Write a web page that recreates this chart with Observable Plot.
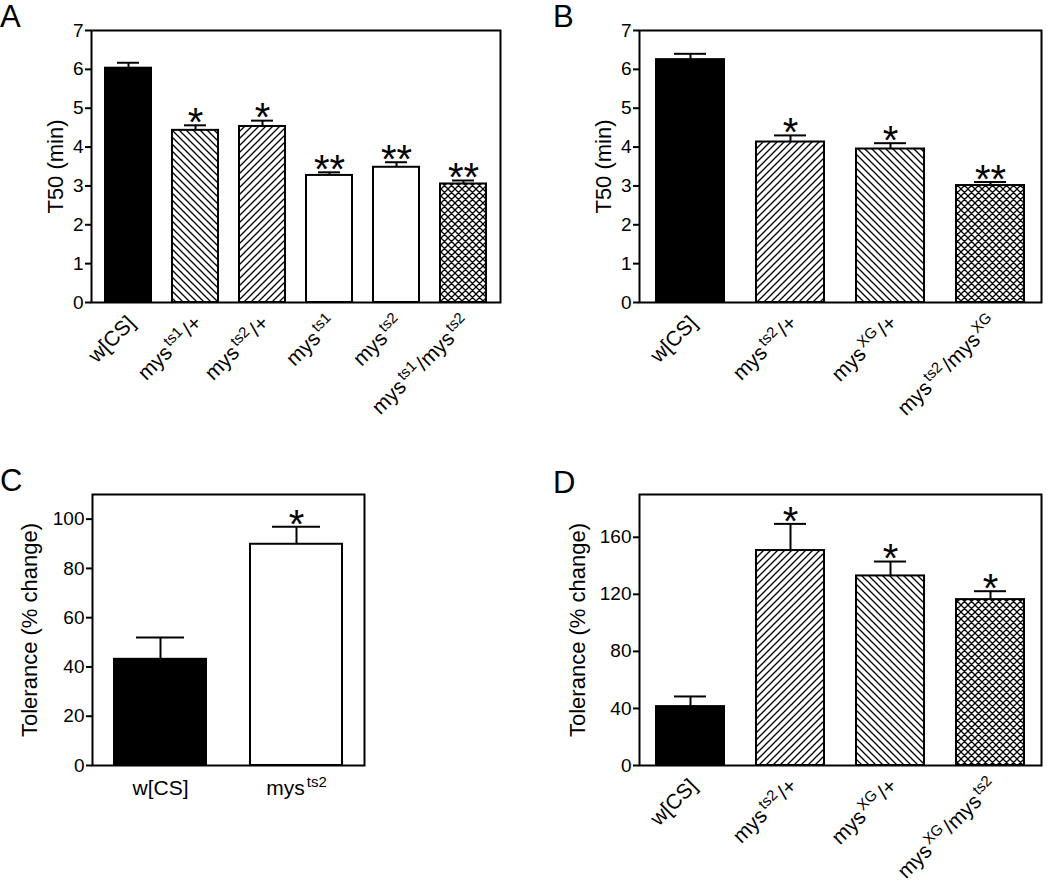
<!DOCTYPE html>
<html><head><meta charset="utf-8">
<script src="https://cdn.jsdelivr.net/npm/d3@7"></script>
<script src="https://cdn.jsdelivr.net/npm/@observablehq/plot@0.6"></script>
<style>
body{margin:0;background:#fff;}
#root{position:relative;width:1050px;height:885px;font-family:"Liberation Sans",Arial,sans-serif;color:#000;background:#fff;overflow:hidden;}
.panel{position:absolute;}
.panel svg{overflow:visible;max-width:none;}
.letter{position:absolute;font-size:31px;line-height:1;}
</style></head><body>
<svg width="0" height="0" style="position:absolute">
<defs>
<pattern id="hf" patternUnits="userSpaceOnUse" width="7" height="7">
<rect width="7" height="7" fill="white"/>
<path d="M-1,1 L1,-1 M0,7 L7,0 M6,8 L8,6" stroke="black" stroke-width="1.3"/>
</pattern>
<pattern id="hb" patternUnits="userSpaceOnUse" width="7" height="7">
<rect width="7" height="7" fill="white"/>
<path d="M-1,6 L1,8 M0,0 L7,7 M6,-1 L8,1" stroke="black" stroke-width="1.3"/>
</pattern>
<pattern id="hx" patternUnits="userSpaceOnUse" width="7" height="7">
<rect width="7" height="7" fill="white"/>
<path d="M-1,1 L1,-1 M0,7 L7,0 M6,8 L8,6 M-1,6 L1,8 M0,0 L7,7 M6,-1 L8,1" stroke="black" stroke-width="1.3"/>
</pattern>
</defs>
</svg>
<div id="root"></div>
<script>
// ---------- Data ----------
// Panel A: T50 (min)
const catsA = ["w[CS]", "mys^{ts1}/+", "mys^{ts2}/+", "mys^{ts1}", "mys^{ts2}", "mys^{ts1}/mys^{ts2}"];
const meanA = [6.03, 4.43, 4.53, 3.27, 3.48, 3.05];
const semA  = [0.14, 0.13, 0.15, 0.08, 0.13, 0.09];
const sigA  = ["", "*", "*", "**", "**", "**"];
const ticksA = [0, 1, 2, 3, 4, 5, 6, 7];

// Panel B: T50 (min)
const catsB = ["w[CS]", "mys^{ts2}/+", "mys^{XG}/+", "mys^{ts2}/mys^{XG}"];
const meanB = [6.25, 4.13, 3.95, 3.01];
const semB  = [0.15, 0.17, 0.15, 0.09];
const sigB  = ["", "*", "*", "**"];
const ticksB = [0, 1, 2, 3, 4, 5, 6, 7];

// Panel C: Tolerance (% change)
const catsC = ["w[CS]", "mys^{ts2}"];
const meanC = [43.1, 89.8];
const semC  = [8.9, 7.1];
const sigC  = ["", "*"];
const ticksC = [0, 20, 40, 60, 80, 100];

// Panel D: Tolerance (% change)
const catsD = ["w[CS]", "mys^{ts2}/+", "mys^{XG}/+", "mys^{XG}/mys^{ts2}"];
const meanD = [41.3, 150.7, 132.9, 116.3];
const semD  = [7.1, 18.7, 10.1, 5.9];
const sigD  = ["", "*", "*", "*"];
const ticksD = [0, 40, 80, 120, 160];

// ---------- Styles ----------
const fillsA = ["black", "url(#hb)", "url(#hf)", "white", "white", "url(#hx)"];
const fillsB = ["black", "url(#hf)", "url(#hb)", "url(#hx)"];
const fillsC = ["black", "white"];
const fillsD = ["black", "url(#hf)", "url(#hb)", "url(#hx)"];

const FONT = "Liberation Sans, Arial, Helvetica, sans-serif";

function richify(svg) {
  d3.select(svg).selectAll("text").each(function () {
    const t = this.textContent;
    if (!t.includes("^{")) return;
    const parts = t.split(/(\^\{[^}]*\})/).filter(s => s);
    while (this.firstChild) this.removeChild(this.firstChild);
    let raised = false;
    for (const p of parts) {
      const ts = document.createElementNS("http://www.w3.org/2000/svg", "tspan");
      if (p.startsWith("^{")) {
        ts.textContent = p.slice(2, -1);
        ts.setAttribute("font-size", "15");
        ts.setAttribute("dy", "-8");
        ts.setAttribute("dx", "2");
        raised = true;
      } else {
        ts.textContent = p;
        if (raised) { ts.setAttribute("dy", "8"); ts.setAttribute("dx", "2"); raised = false; }
      }
      this.appendChild(ts);
    }
  });
}

function panel(cfg) {
  const {cats, mean, sem, sig, fills, domain, ticks, ylabel, width, height,
         ml, mr, mt, mb, labelOffset, rotate, capInset, padOuter} = cfg;
  const data = cats.map((c, i) => ({c, m: mean[i], e: mean[i] + sem[i], s: sig[i], f: fills[i]}));
  const labelMark = rotate
    ? Plot.text(cats, {x: d => d, text: d => d, frameAnchor: "bottom", rotate: -45,
        textAnchor: "end", lineAnchor: "middle", dx: 3, dy: 17, fontSize: 21})
    : Plot.text(cats, {x: d => d, text: d => d, frameAnchor: "bottom",
        textAnchor: "middle", lineAnchor: "top", dy: 15, fontSize: 21});
  const plot = Plot.plot({
    width, height, marginLeft: ml, marginRight: mr, marginTop: mt, marginBottom: mb,
    style: {fontFamily: FONT, background: "white", color: "black", overflow: "visible"},
    x: {domain: cats, paddingInner: 0.32, paddingOuter: padOuter, axis: null},
    y: {domain, axis: null},
    color: {type: "identity"},
    marks: [
      Plot.barY(data, {x: "c", y: d => d.m, fill: d => d.f, stroke: "black", strokeWidth: 2}),
      Plot.ruleX(data, {x: "c", y1: d => d.m, y2: d => d.e, stroke: "black", strokeWidth: 2}),
      Plot.tickY(data, {x: "c", y: d => d.e, stroke: "black", strokeWidth: 2, insetLeft: capInset, insetRight: capInset}),
      Plot.text(data, {x: "c", y: d => d.e, text: d => d.s, fontSize: 40, dy: -2, fill: "black"}),
      Plot.axisY({ticks, tickFormat: d3.format("d"), tickSize: 6, tickPadding: 2, fontSize: 19, label: null, strokeWidth: 2}),
      Plot.text([ylabel], {text: d => d, frameAnchor: "left", rotate: -90, lineAnchor: "top",
        textAnchor: "middle", dx: -labelOffset, fontSize: 22}),
      labelMark,
      Plot.frame({stroke: "black", strokeWidth: 2})
    ]
  });
  richify(plot);
  return plot;
}

const root = document.getElementById("root");
function place(node, left, top, w, h) {
  const div = document.createElement("div");
  div.className = "panel";
  div.style.left = left + "px"; div.style.top = top + "px";
  div.style.width = w + "px"; div.style.height = h + "px";
  div.appendChild(node);
  root.appendChild(div);
}
function letter(t, left, top) {
  const d = document.createElement("div");
  d.className = "letter"; d.textContent = t;
  d.style.left = left + "px"; d.style.top = top + "px";
  root.appendChild(d);
}

place(panel({cats: catsA, mean: meanA, sem: semA, sig: sigA, fills: fillsA, domain: [0, 7], ticks: ticksA,
  ylabel: "T50 (min)", width: 520, height: 430, ml: 91, mr: 20, mt: 30, mb: 128,
  labelOffset: 44, rotate: true, capInset: 12, padOuter: 0.17}), 0, 0, 520, 430);
place(panel({cats: catsB, mean: meanB, sem: semB, sig: sigB, fills: fillsB, domain: [0, 7], ticks: ticksB,
  ylabel: "T50 (min)", width: 530, height: 430, ml: 119, mr: 9, mt: 30, mb: 128,
  labelOffset: 44, rotate: true, capInset: 18, padOuter: 0.16}), 520, 0, 530, 430);
place(panel({cats: catsC, mean: meanC, sem: semC, sig: sigC, fills: fillsC, domain: [0, 110], ticks: ticksC,
  ylabel: "Tolerance (% change)", width: 520, height: 455, ml: 92, mr: 156, mt: 64, mb: 120,
  labelOffset: 71, rotate: false, capInset: 22, padOuter: 0.16}), 0, 430, 520, 455);
place(panel({cats: catsD, mean: meanD, sem: semD, sig: sigD, fills: fillsD, domain: [0, 190], ticks: ticksD,
  ylabel: "Tolerance (% change)", width: 530, height: 455, ml: 119, mr: 9, mt: 64, mb: 120,
  labelOffset: 70, rotate: true, capInset: 18, padOuter: 0.16}), 520, 430, 530, 455);

letter("A", 0, 1);
letter("B", 553, 1);
letter("C", 0, 465);
letter("D", 553, 467);
</script>
</body></html>
